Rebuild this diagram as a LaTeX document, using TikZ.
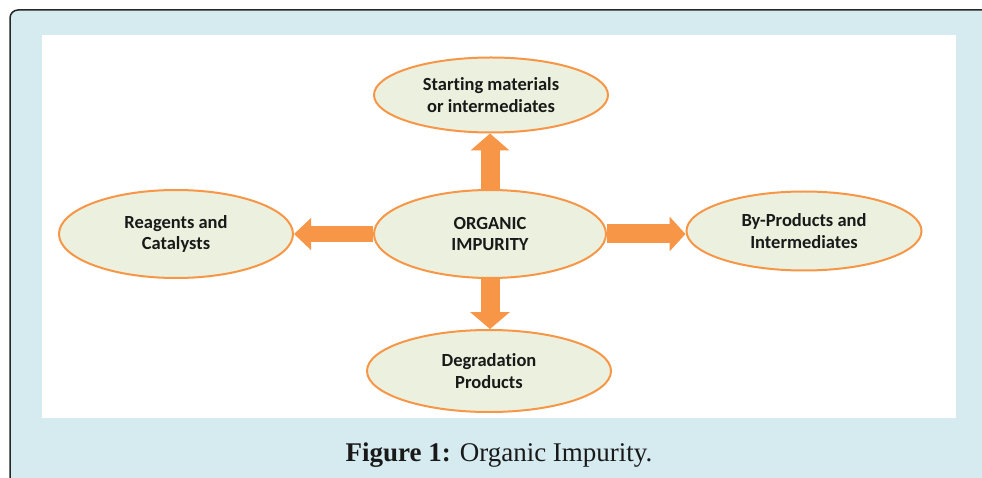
\documentclass[tikz,border=0pt]{standalone}
\usepackage{fontspec}
\setmainfont{Liberation Serif}
\newfontfamily\carlito[Ligatures=NoCommon]{Carlito}
\usetikzlibrary{shapes.geometric,arrows.meta}
\definecolor{orangeA}{HTML}{F79646}
\definecolor{ellfill}{HTML}{EBF1DE}
\definecolor{bluebg}{HTML}{D6EBF0}
\pgfdeclarelayer{bg}
\pgfdeclarelayer{mid}
\pgfsetlayers{bg,mid,main}
\begin{document}
\begin{tikzpicture}[x=1pt,y=-1pt,
  ell/.style={ellipse, draw=orangeA, line width=2pt, fill=ellfill, inner sep=0pt,
    align=center, text=black!90, font=\carlito\bfseries\fontsize{18.5}{21.5}\selectfont},
  fatarrow/.style={draw=orangeA, line width=#1},
  captext/.style={font=\fontsize{27}{31}\selectfont, text=black!90}]
\useasboundingbox (0,0) rectangle (982,478);
\begin{pgfonlayer}{bg}
  \begin{scope}
    \clip (0,0) rectangle (982,478);
    \fill[bluebg, rounded corners=8pt] (10,500) -- (10,10) -- (1000,10) -- (1000,500) -- cycle;
    \draw[line width=1.5pt, black!85, rounded corners=8pt] (10,500) -- (10,10) -- (1000,10);
  \end{scope}
  \fill[white] (42,35) rectangle (956,418);
\end{pgfonlayer}

\node[ell, minimum width=232pt, minimum height=88pt] (c) at (490,234) {ORGANIC\\IMPURITY};
\node[ell, minimum width=234pt, minimum height=75pt] (t) at (491,95) {Starting materials\\or intermediates};
\node[ell, minimum width=234pt, minimum height=88pt] (l) at (176,234) {Reagents and\\Catalysts};
\node[ell, minimum width=235pt, minimum height=79pt] (r) at (804,231) {By-Products and\\Intermediates};
\node[ell, minimum width=244pt, minimum height=82pt] (b) at (489,371) {Degradation\\Products};

\begin{pgfonlayer}{mid}
  \draw[fatarrow=19pt, -{Triangle[width=38pt,length=17pt]}] (c.north) -- (c.north |- t.south);
  \draw[fatarrow=19pt, -{Triangle[width=39pt,length=17pt]}] (c.south) -- (c.south |- b.north);
  \draw[fatarrow=19pt, -{Triangle[width=34pt,length=16pt]}] (c.east) -- (c.east -| r.west);
  \draw[fatarrow=16pt, -{Triangle[width=31pt,length=17pt]}] (c.west) -- (c.west -| l.east);
\end{pgfonlayer}

\node[captext] (cap) at (499,455) {\textbf{Figure 1:} Organic Impurity.};
\end{tikzpicture}
\end{document}
